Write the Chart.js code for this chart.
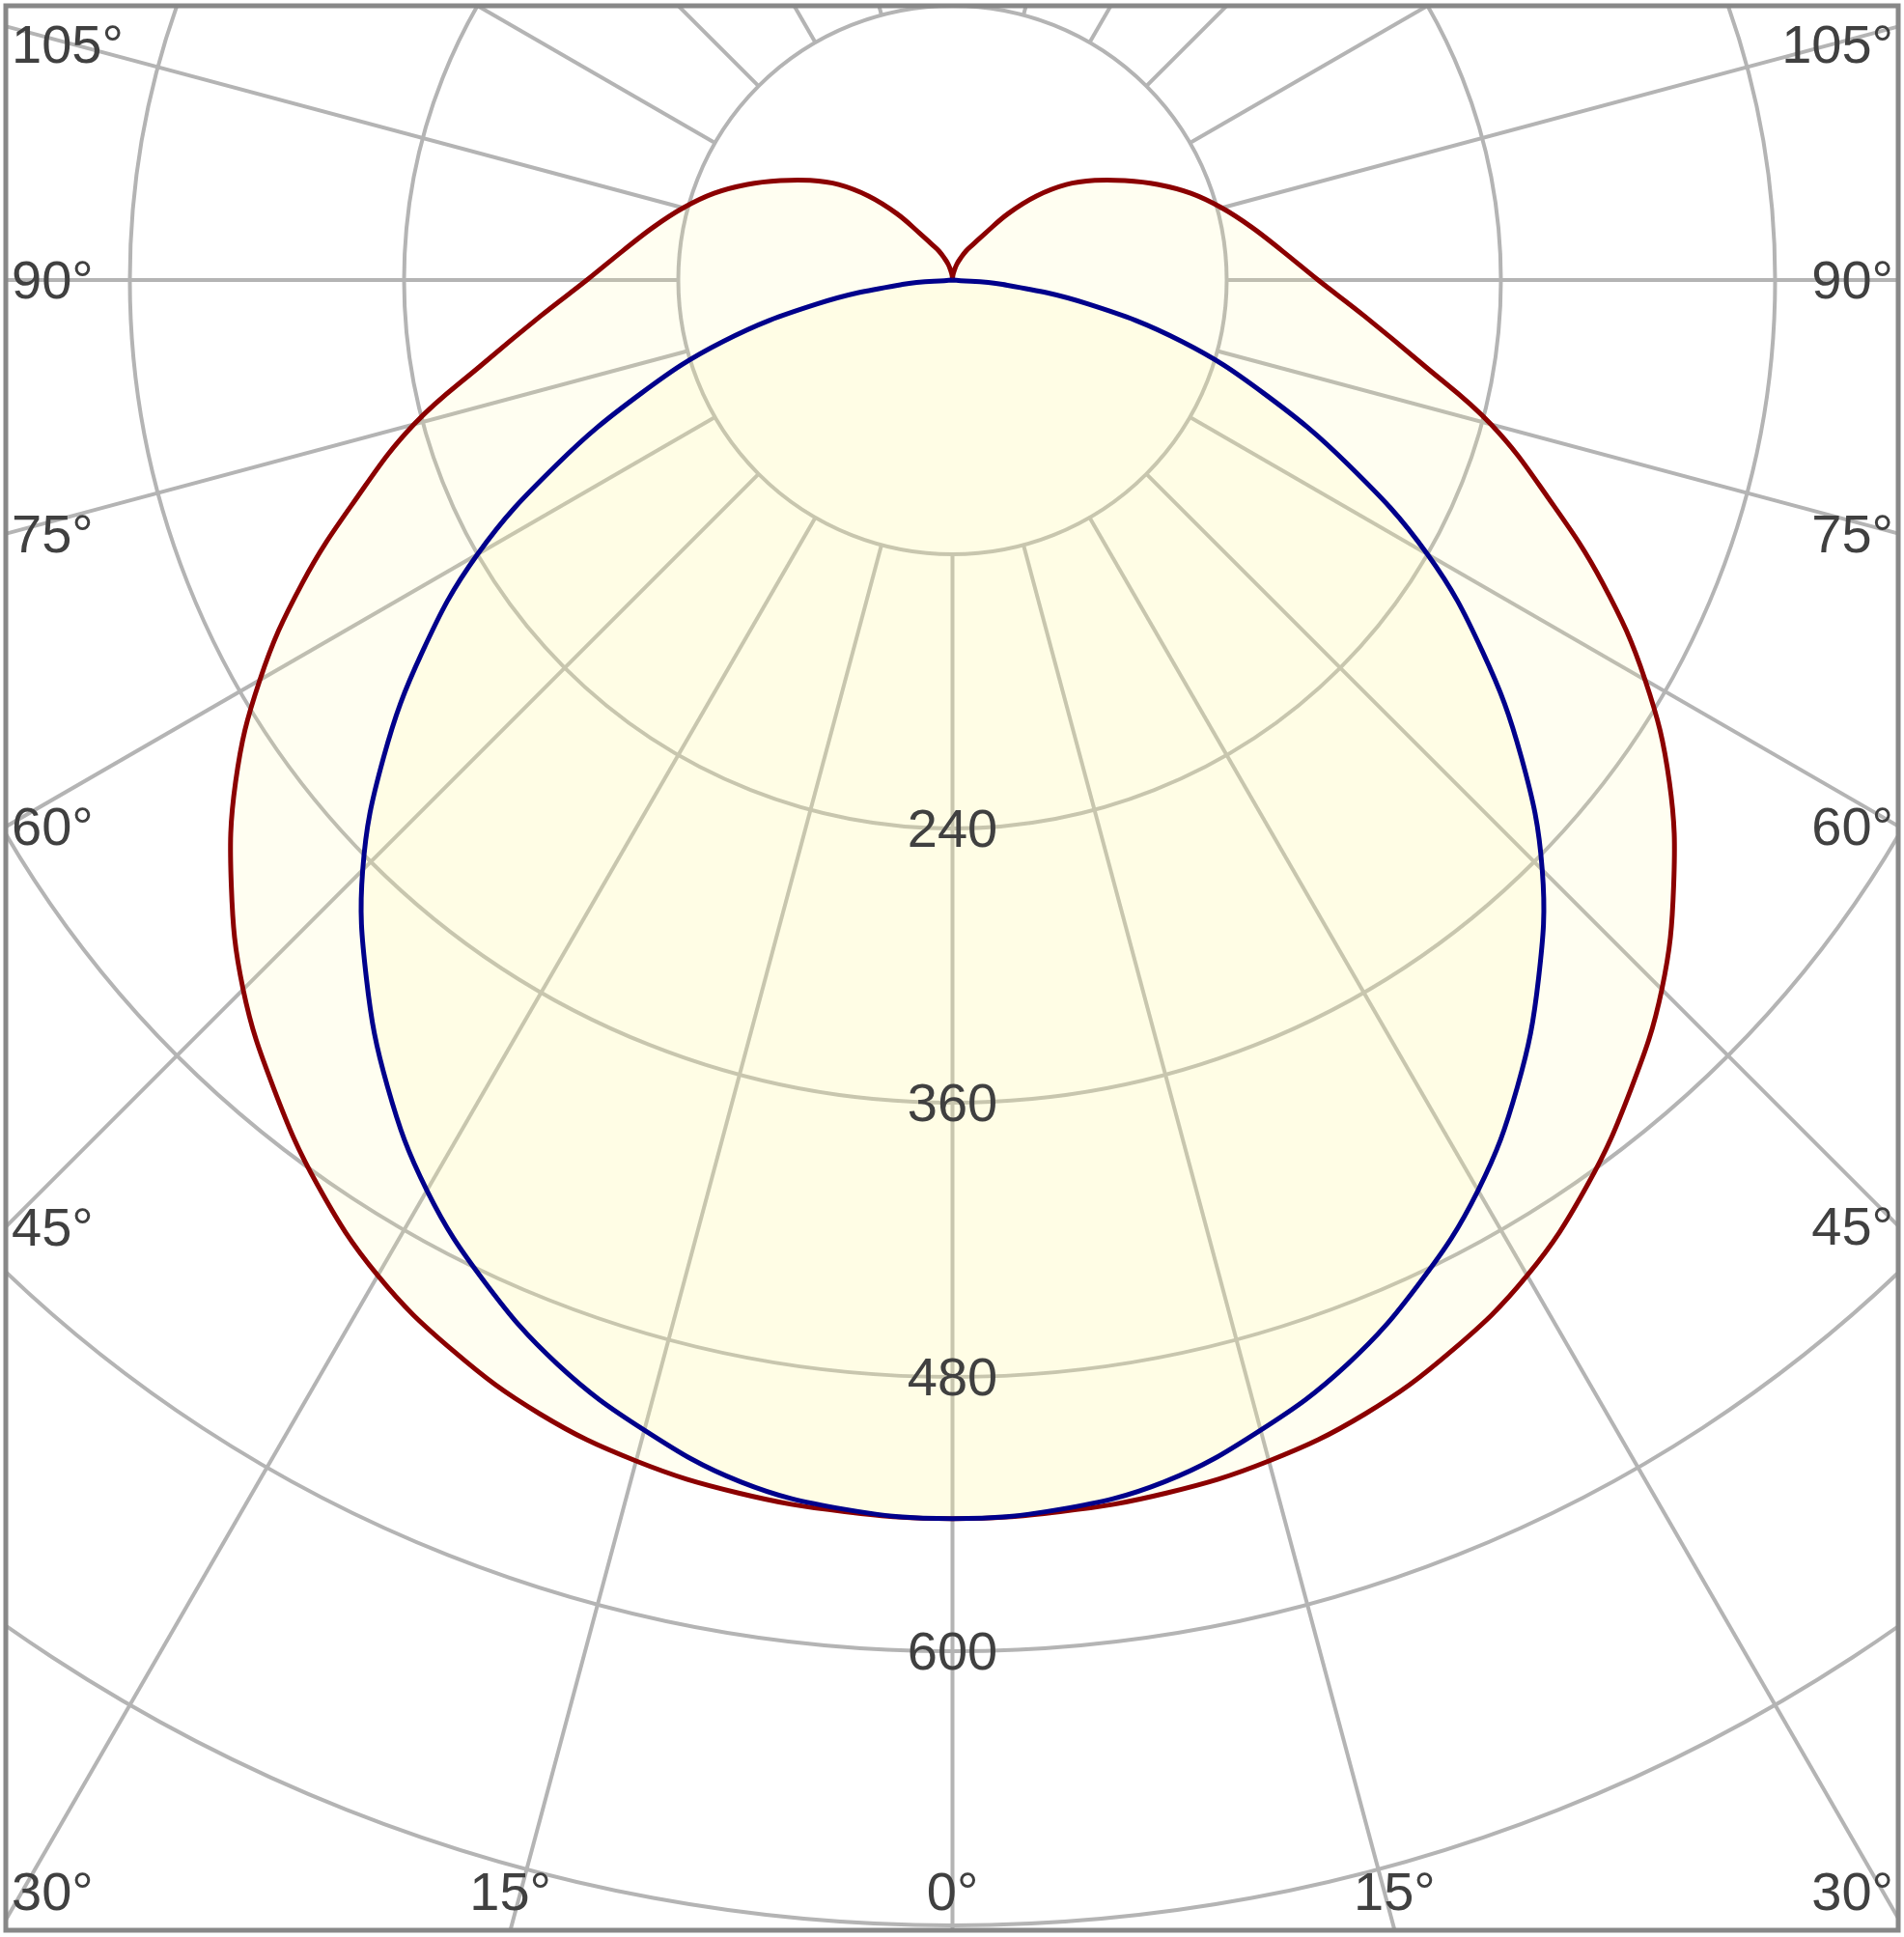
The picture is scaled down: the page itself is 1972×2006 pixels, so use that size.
<!DOCTYPE html>
<html>
<head>
<meta charset="utf-8">
<script src="https://cdn.jsdelivr.net/npm/chart.js@4.4.1/dist/chart.umd.min.js"></script>
<style>
  html, body { margin: 0; padding: 0; background: #fff; }
  canvas { display: block; }
</style>
</head>
<body>
<canvas id="chart" width="1972" height="2006" style="width:1972px;height:2006px"></canvas>
<script>
// gamma angles, degrees from nadir
const gammaC0 = [0, 5, 10, 15, 20, 25, 30, 35, 40, 45, 50, 55, 60, 65, 70, 75, 80, 85, 90,
  95, 100, 105, 110, 115, 120, 125, 130, 135, 140, 145, 150, 155, 160, 165, 170, 175, 180];
// C0-C180 plane, cd (red)
const intensityC0 = [542, 541, 539, 535, 528, 517, 503, 484, 462, 439, 412, 383, 350, 314, 277, 244, 208, 181, 160,
  145, 133, 122, 111, 99, 87, 76, 65, 52, 38, 25, 18, 14, 10, 7, 4, 2, 0];

const gammaC90 = [0, 5, 10, 15, 20, 25, 30, 35, 40, 45, 50, 55, 60, 65, 70, 75, 80, 85, 90];
// C90-C270 plane, cd (blue)
const intensityC90 = [542, 540, 534, 521, 505, 484, 460, 431, 399, 365, 325, 283, 240, 191, 145, 104, 60, 22, 0];

const ringTicks = [120, 240, 360, 480, 600, 720, 840];
const ringLabels = [240, 360, 480, 600];
const spokeAngles = [0, 15, 30, 45, 60, 75, 90, 105, 120, 135, 150, 165, 180,
  195, 210, 225, 240, 255, 270, 285, 300, 315, 330, 345];
const angleLabels = [0, 15, 30, 45, 60, 75, 90, 105];

const FRAME = { left: 6, top: 6, right: 1966, bottom: 1999 };
const FONT_SIZE = 56;
const CAP_H = 38.5;

// polar -> x/y in cd units, left half then mirrored right half
function toPoints(angles, values) {
  let pts = [];
  for (let i = angles.length - 1; i >= 0; i--) {
    let t = angles[i] * Math.PI / 180;
    pts.push({ x: -values[i] * Math.sin(t), y: -values[i] * Math.cos(t) });
  }
  for (let i = 1; i < angles.length; i++) {
    let t = angles[i] * Math.PI / 180;
    pts.push({ x: values[i] * Math.sin(t), y: -values[i] * Math.cos(t) });
  }
  return pts;
}

const polarGrid = {
  id: "polarGrid",

  beforeDatasetsDraw(chart) {
    const { ctx, scales: { x, y } } = chart;
    const cx = x.getPixelForValue(0);
    const cy = y.getPixelForValue(0);
    const k = x.getPixelForValue(1) - cx;

    ctx.save();
    ctx.beginPath();
    ctx.rect(FRAME.left, FRAME.top, FRAME.right - FRAME.left, FRAME.bottom - FRAME.top);
    ctx.clip();
    ctx.strokeStyle = "#b4b4b4";
    ctx.lineWidth = 4;

    ringTicks.forEach((v) => {
      ctx.beginPath();
      ctx.arc(cx, cy, v * k, 0, Math.PI * 2);
      ctx.stroke();
    });

    spokeAngles.forEach((a) => {
      let t = a * Math.PI / 180;
      let s = Math.sin(t), c = Math.cos(t);
      ctx.beginPath();
      ctx.moveTo(cx + s * ringTicks[0] * k, cy + c * ringTicks[0] * k);
      ctx.lineTo(cx + s * 1000 * k, cy + c * 1000 * k);
      ctx.stroke();
    });
    ctx.restore();
  },

  afterDraw(chart) {
    const { ctx, scales: { x, y } } = chart;
    const cx = x.getPixelForValue(0);
    const cy = y.getPixelForValue(0);

    ctx.save();
    ctx.font = FONT_SIZE + 'px "Liberation Sans", Arial, sans-serif';
    ctx.fillStyle = "#404040";
    ctx.textBaseline = "alphabetic";

    // intensity labels on the nadir axis
    ctx.textAlign = "center";
    ringLabels.forEach((v) => {
      ctx.fillText(String(v), cx, y.getPixelForValue(-v) + CAP_H / 2);
    });

    // angle labels where the spokes leave the frame
    angleLabels.forEach((a) => {
      let t = a * Math.PI / 180;
      let s = Math.sin(t), c = Math.cos(t);
      let sides = a === 0 ? [1] : [-1, 1];
      sides.forEach((side) => {
        let tSide = s > 1e-6 ? (side < 0 ? cx - FRAME.left : FRAME.right - cx) / s : Infinity;
        let tBottom = c > 1e-6 ? (FRAME.bottom - cy) / c : Infinity;
        let text = a + "°";
        if (tBottom <= tSide) {
          ctx.textAlign = "center";
          ctx.fillText(text, cx + side * s * tBottom, FRAME.bottom - 21);
        } else {
          let yc = cy + c * tSide;
          let base = Math.min(Math.max(yc + CAP_H / 2, FRAME.top + 20 + CAP_H), FRAME.bottom - 21);
          if (side < 0) {
            ctx.textAlign = "left";
            ctx.fillText(text, FRAME.left + 6, base);
          } else {
            ctx.textAlign = "right";
            ctx.fillText(text, FRAME.right - 5, base);
          }
        }
      });
    });

    // frame
    ctx.strokeStyle = "#888888";
    ctx.lineWidth = 5;
    ctx.strokeRect(FRAME.left, FRAME.top, FRAME.right - FRAME.left, FRAME.bottom - FRAME.top);
    ctx.restore();
  },
};

const pxPerCd = 2.3667;
const centerX = 986.5;
const centerY = 290;

new Chart(document.querySelector("#chart"), {
  type: "line",
  data: {
    datasets: [
      {
        label: "C90 - C270",
        data: toPoints(gammaC90, intensityC90),
        borderColor: "#00008b",
        borderWidth: 5,
        backgroundColor: "rgba(255,245,160,0.15)",
        fill: "shape",
        pointRadius: 0,
        tension: 0.4,
      },
      {
        label: "C0 - C180",
        data: toPoints(gammaC0, intensityC0),
        borderColor: "#8b0000",
        borderWidth: 5,
        backgroundColor: "rgba(255,245,160,0.15)",
        fill: "shape",
        pointRadius: 0,
        tension: 0.4,
      },
    ],
  },
  options: {
    responsive: false,
    devicePixelRatio: 1,
    animation: false,
    events: [],
    layout: { padding: 0 },
    plugins: {
      legend: { display: false },
      tooltip: { enabled: false },
    },
    scales: {
      x: {
        type: "linear",
        display: false,
        min: -centerX / pxPerCd,
        max: (1972 - centerX) / pxPerCd,
      },
      y: {
        type: "linear",
        display: false,
        min: -(2006 - centerY) / pxPerCd,
        max: centerY / pxPerCd,
      },
    },
  },
  plugins: [polarGrid],
});
</script>
</body>
</html>
